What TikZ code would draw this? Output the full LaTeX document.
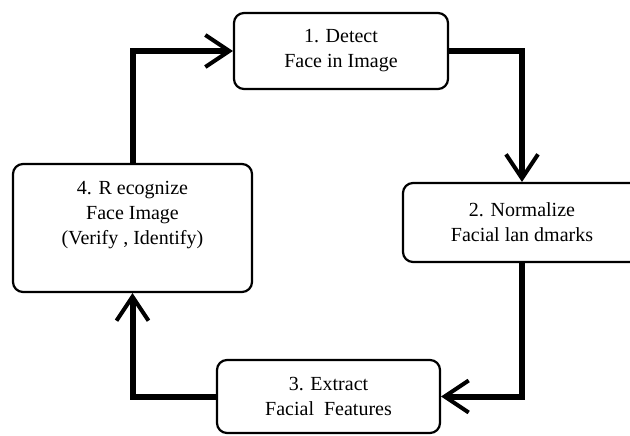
\documentclass[tikz,border=0pt]{standalone}
\usepackage{fontspec}
\setmainfont{Liberation Serif}
\usetikzlibrary{arrows.meta}
\begin{document}
\begin{tikzpicture}[x=1pt, y=-1pt,
    stepbox/.style={draw, line width=2.2pt, rounded corners=10pt, align=center,
        font=\fontsize{20}{25}\selectfont, inner sep=0pt},
    flow/.style={line width=6pt, -{Straight Barb[length=24pt, width=32pt, line width=4pt]}}]
    % Marco
    \useasboundingbox (0, 0) rectangle (630, 436);

    % Pasos del ciclo
    \node[stepbox, minimum width=214pt, minimum height=76pt] (detect) at (341, 51) {1. Detect\\Face in Image};
    \node[stepbox, minimum width=238pt, minimum height=79pt] (normalize) at (522, 222.5) {2. Normalize\\Facial lan dmarks};
    \node[stepbox, minimum width=223pt, minimum height=73pt] (extract) at (328.5, 396.5) {3. Extract\\Facial\ \ Features};
    \node[stepbox, minimum width=239pt, minimum height=128pt, text depth=30pt] (recognize) at (132.5, 228) {4. R ecognize\\Face Image\\(Verify , Identify)};

    % Flechas
    \draw[flow] (recognize.north) |- (detect.west);
    \draw[flow] (detect.east) -| (normalize.north);
    \draw[flow] (normalize.south) |- (extract.east);
    \draw[flow] (extract.west) -| (recognize.south);
\end{tikzpicture}
\end{document}
